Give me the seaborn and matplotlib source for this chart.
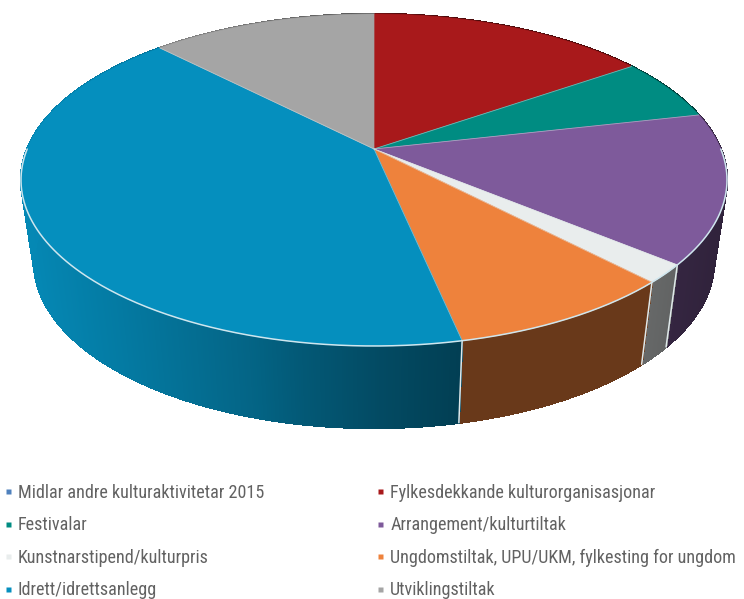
import numpy as np
import matplotlib
matplotlib.use("Agg")
import matplotlib.pyplot as plt
from matplotlib.collections import PolyCollection
from matplotlib.lines import Line2D
import seaborn as sns

categories = ["Midlar andre kulturaktivitetar 2015", "Fylkesdekkande kulturorganisasjonar",
              "Festivalar", "Arrangement/kulturtiltak",
              "Kunstnarstipend/kulturpris", "Ungdomstiltak, UPU/UKM, fylkesting for ungdom",
              "Idrett/idrettsanlegg", "Utviklingstiltak"]
values = [0.0, 15.35, 6.1, 14.55, 1.8, 8.87, 41.0, 12.33]
colors = ["#4f81bd", "#a8191b", "#008c82", "#7e5a9b", "#e9eded", "#ee823c", "#058fbe", "#a5a5a5"]
edge_light = "#dfe8ea"

sns.set_theme(style="white")
palette = sns.color_palette(colors)

# projection of the tilted disc, in pixels of the figure
CX, CY, A, B, K, DEPTH, BOTTOM_SCALE = 374, 149, 160.2, 346.8, 0.1867, 82, 0.963
SHADE_X = [21, 120, 250, 300, 380, 460, 650, 727]
SHADE_V = [0.95, 0.85, 0.70, 0.62, 0.52, 0.44, 0.44, 0.38]

def top(t):
    x, y = np.sin(t), np.cos(t)
    d = 1 + K * y
    return CX + B * x / d, CY - A * y / d

def bottom(t):
    x, y = top(t)
    return CX + BOTTOM_SCALE * (x - CX), y + DEPTH

fig = plt.figure(figsize=(7.44, 5.99), dpi=100)
ax = fig.add_axes([0, 0, 1, 1])
ax.set_xlim(0, 744)
ax.set_ylim(599, 0)
ax.axis("off")

edges = 2 * np.pi * np.concatenate([[0], np.cumsum(values)]) / sum(values)

# side wall
for i, col in enumerate(palette):
    if values[i] == 0:
        continue
    ts = np.linspace(edges[i], edges[i + 1], max(3, int(values[i] * 12)))
    polys, fcs = [], []
    for t0, t1 in zip(ts[:-1], ts[1:]):
        x0, y0 = top(t0); x1, y1 = top(t1)
        x2, y2 = bottom(t1); x3, y3 = bottom(t0)
        polys.append([(x0, y0), (x1, y1), (x2, y2), (x3, y3)])
        s = np.interp((x0 + x1) / 2, SHADE_X, SHADE_V)
        fcs.append(tuple(np.array(col) * s))
    ax.add_collection(PolyCollection(polys, facecolors=fcs, edgecolors=fcs, linewidths=1.0,
                                     antialiaseds=False, zorder=1))

# seams on the wall
for t in edges[1:-1]:
    if np.cos(t) < -0.3 and abs(np.sin(t)) < 0.95:
        x0, y0 = top(t); x1, y1 = bottom(t)
        ax.plot([x0, x1], [y0, y1], color=edge_light, lw=1.1, zorder=2)

# top face
for i, col in enumerate(palette):
    if values[i] == 0:
        continue
    ts = np.linspace(edges[i], edges[i + 1], 200)
    xs, ys = top(ts)
    ax.fill(np.r_[CX, xs], np.r_[CY, ys], facecolor=col, edgecolor=col, lw=0.5, zorder=3)

# light rim and slice boundaries
front = np.linspace(np.pi * 0.5, np.pi * 1.5, 400)
fx, fy = top(front)
ax.plot(fx, fy, color="#cfe6ee", lw=1.1, zorder=4)
for t in edges[1:-1]:
    if t > 0:
        x0, y0 = top(t)
        ax.plot([CX, x0], [CY, y0], color=edge_light, lw=0.6, alpha=0.5, zorder=4)

# legend, two columns filled row by row
order = [0, 2, 4, 6, 1, 3, 5, 7]
handles = [Line2D([], [], ls="", marker="s", ms=3.6, mfc=palette[i], mec="none") for i in order]
labels = [categories[i] for i in order]
leg = ax.legend(handles, labels, ncols=2, frameon=False, loc="upper left",
                bbox_to_anchor=(3.4 / 744, 1 - 483.5 / 599),
                prop={"family": ["Roboto Condensed", "Roboto"], "size": 13.1},
                labelcolor="#626262", labelspacing=0.80, handlelength=0.49,
                handletextpad=0.31, columnspacing=6.12, borderpad=0, borderaxespad=0)

fig.savefig("out.png", dpi=100, facecolor="white")
